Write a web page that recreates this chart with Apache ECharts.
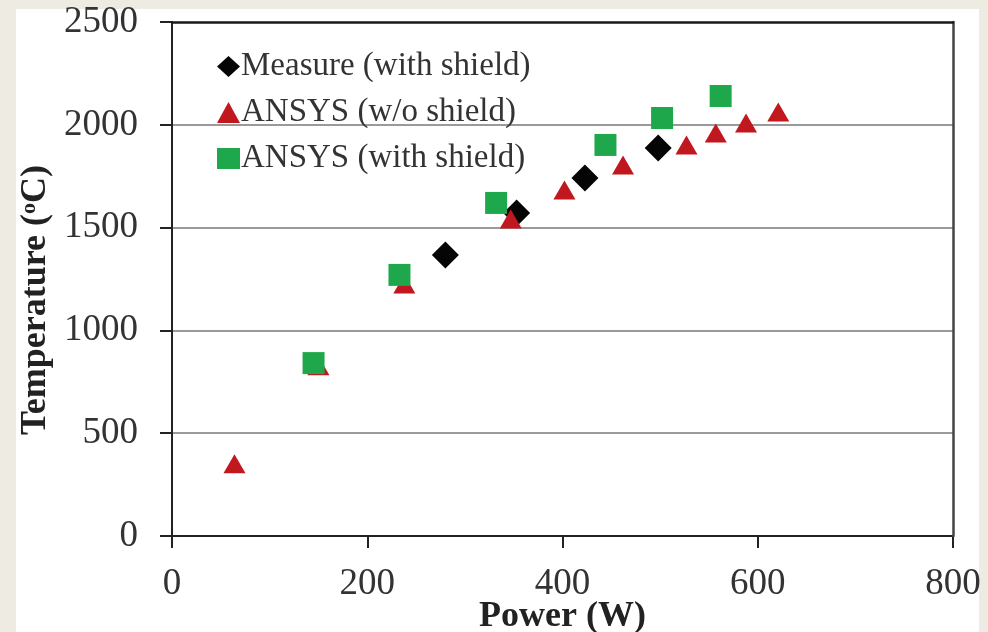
<!DOCTYPE html>
<html>
<head>
<meta charset="utf-8">
<script src="https://cdn.jsdelivr.net/npm/echarts@6/dist/echarts.min.js"></script>
<style>
  html, body { margin: 0; padding: 0; background: #eeece2; }
  #chart { width: 988px; height: 632px; }
</style>
</head>
<body>
<div id="chart"></div>
<script>
// Power (W) vs Temperature (oC)
const measurePower = [280, 353, 423, 498];
const measureTemp = [1367, 1571, 1741, 1887];

const noShieldPower = [64, 150, 238, 347, 402, 462, 527, 557, 588, 621];
const noShieldTemp = [352, 828, 1226, 1542, 1683, 1804, 1902, 1960, 2009, 2062];

const shieldPower = [145, 233, 332, 444, 502, 562];
const shieldTemp = [841, 1270, 1620, 1902, 2033, 2140];

const xTicks = [0, 200, 400, 600, 800];
const yTicks = [0, 500, 1000, 1500, 2000, 2500];

const pairs = (xs, ys) => xs.map((x, i) => [x, ys[i]]);

const serif = '"Liberation Serif", "DejaVu Serif", serif';
const textColor = '#333';

const chart = echarts.init(document.getElementById('chart'));

chart.setOption({
    backgroundColor: '#eeece2',
    animation: false,
    graphic: [{
        type: 'rect',
        z: -10,
        shape: { x: 16, y: 9, width: 963, height: 640 },
        style: { fill: '#ffffff' }
    }],
    grid: { left: 172, right: 35, top: 22, bottom: 96, containLabel: false, outerBoundsMode: 'none' },
    legend: {
        orient: 'vertical',
        left: 212,
        top: 45,
        itemGap: 13,
        itemWidth: 23,
        itemHeight: 21,
        textStyle: { fontFamily: serif, fontSize: 33, color: textColor, padding: [0, 0, 0, -4] },
        data: [
            { name: 'Measure (with shield)', icon: 'diamond' },
            { name: 'ANSYS (w/o shield)', icon: 'triangle' },
            { name: 'ANSYS (with shield)', icon: 'rect' }
        ]
    },
    xAxis: [{
        type: 'value',
        min: 0,
        max: 800,
        interval: 200,
        name: 'Power (W)',
        nameLocation: 'middle',
        nameGap: 63,
        nameMoveOverlap: false,
        nameTextStyle: { fontFamily: serif, fontSize: 36, fontWeight: 'bold', color: '#222' },
        axisLine: { show: true, onZero: false, lineStyle: { color: '#222', width: 2 } },
        axisTick: { show: true, inside: false, length: 12, lineStyle: { color: '#222', width: 2 } },
        axisLabel: {
            fontFamily: serif, fontSize: 37, color: textColor, margin: 30,
            formatter: v => xTicks.includes(v) ? String(v) : ''
        },
        splitLine: { show: false }
    }, {
        type: 'value',
        position: 'top',
        min: 0,
        max: 800,
        z: 10,
        axisLine: { show: true, onZero: false, lineStyle: { color: '#1a1a1a', width: 2.5 } },
        axisTick: { show: false },
        axisLabel: { show: false },
        splitLine: { show: false }
    }],
    yAxis: [{
        type: 'value',
        min: 0,
        max: 2500,
        interval: 500,
        name: 'Temperature ({sup|o}C)',
        nameLocation: 'middle',
        nameGap: 118,
        nameMoveOverlap: false,
        nameTextStyle: {
            fontFamily: serif, fontSize: 36, fontWeight: 'bold', color: '#222',
            padding: [0, 42, 0, 0],
            rich: {
                sup: { fontFamily: serif, fontSize: 22, fontWeight: 'bold', color: '#222', verticalAlign: 'top', padding: [0, 0, 14, 0] }
            }
        },
        axisLine: { show: true, onZero: false, lineStyle: { color: '#222', width: 2 } },
        axisTick: { show: true, inside: false, length: 12, lineStyle: { color: '#222', width: 2 } },
        axisLabel: {
            fontFamily: serif, fontSize: 37, color: textColor, margin: 34,
            formatter: v => yTicks.includes(v) ? String(v) : ''
        },
        splitLine: { show: true, showMinLine: false, showMaxLine: false, lineStyle: { color: '#9a9a9a', width: 2 } }
    }, {
        type: 'value',
        position: 'right',
        min: 0,
        max: 2500,
        z: 10,
        axisLine: { show: true, onZero: false, lineStyle: { color: '#444', width: 2.5 } },
        axisTick: { show: false },
        axisLabel: { show: false },
        splitLine: { show: false }
    }],
    series: [
        {
            name: 'ANSYS (w/o shield)',
            type: 'scatter',
            symbol: 'triangle',
            symbolSize: [22, 19],
            itemStyle: { color: '#c0181e', opacity: 1 },
            data: pairs(noShieldPower, noShieldTemp),
            z: 2
        },
        {
            name: 'ANSYS (with shield)',
            type: 'scatter',
            symbol: 'rect',
            symbolSize: 22,
            itemStyle: { color: '#1fa84b', opacity: 1 },
            data: pairs(shieldPower, shieldTemp),
            z: 3
        },
        {
            name: 'Measure (with shield)',
            type: 'scatter',
            symbol: 'diamond',
            symbolSize: 27,
            itemStyle: { color: '#050505', opacity: 1 },
            data: pairs(measurePower, measureTemp),
            z: 1
        }
    ]
});
</script>
</body>
</html>
